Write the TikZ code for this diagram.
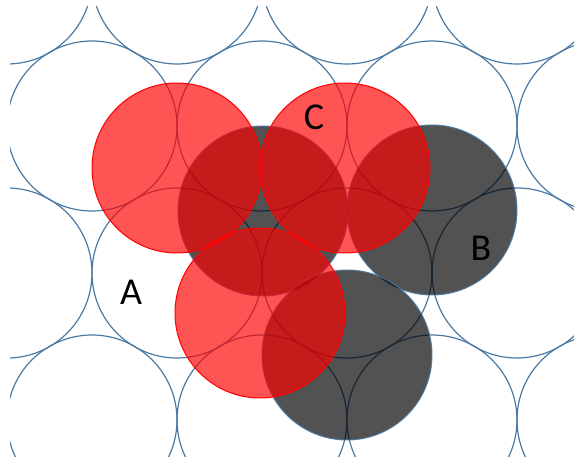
\documentclass[tikz,border=0pt]{standalone}
\usepackage{fontspec}
\setmainfont{Carlito}
\definecolor{latticeblue}{HTML}{4A79A4}
\begin{document}
\begin{tikzpicture}[x=1pt,y=-1pt,
  lattice/.style={draw=latticeblue, line width=1.2pt},
  graydisc/.style={fill=black, fill opacity=0.68, draw=latticeblue, draw opacity=0.9, line width=1pt},
  reddisc/.style={fill=red, fill opacity=0.67, draw=red, line width=1pt},
  lbl/.style={font=\fontsize{38}{38}\selectfont, anchor=base, inner sep=0pt}]
\useasboundingbox (0,0) rectangle (574,457);
\begin{scope}
\clip (10,7) rectangle (574,457);
\foreach \yy/\xs in {-21/{7,177,347,517}, 126/{-78,92,262,432,602}, 273/{7,177,347,517}, 420/{92,262,432,602}} {
  \foreach \xx in \xs { \draw[lattice] (\xx,\yy) circle (85); }
}
\end{scope}
% B layer (gray)
\draw[graydisc] (263,211) circle (85);
\draw[graydisc] (432,210) circle (85);
\draw[graydisc] (347,355) circle (85);
% C layer (red)
\draw[reddisc] (177,168) circle (85);
\draw[reddisc] (345,168) circle (85);
\draw[reddisc] (260,313) circle (85);
% labels
\node[lbl] (A) at (131,305) {A};
\node[lbl] (B) at (481,261) {B};
\node[lbl] (C) at (314,130) {C};
\end{tikzpicture}
\end{document}
